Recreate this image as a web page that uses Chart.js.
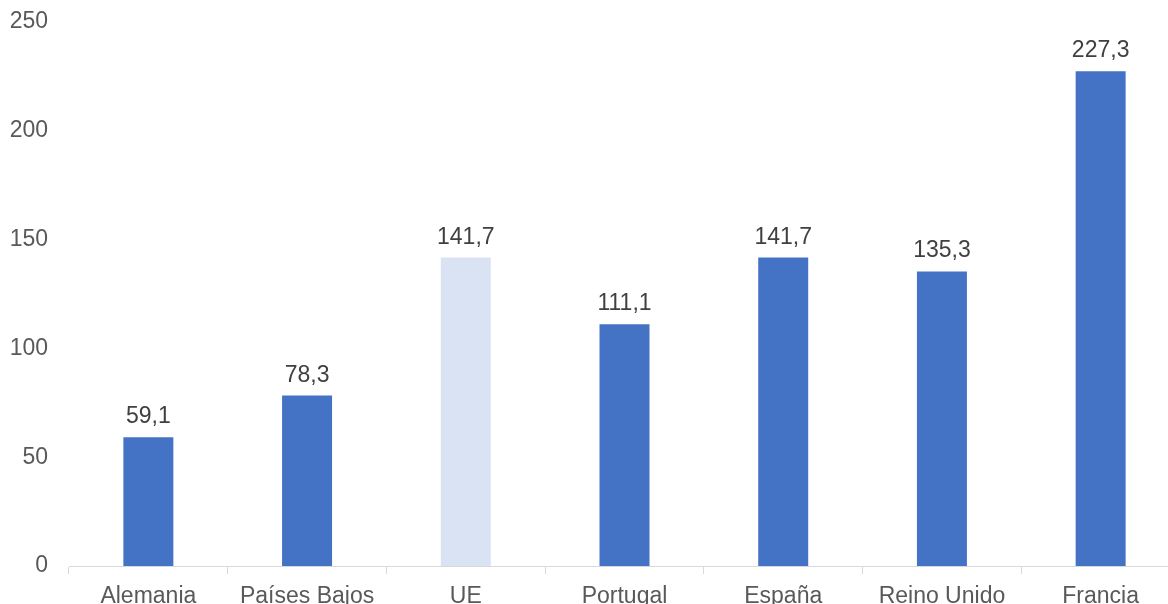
<!DOCTYPE html>
<html>
<head>
<meta charset="utf-8">
<script src="https://cdn.jsdelivr.net/npm/chart.js@4/dist/chart.umd.min.js"></script>
<style>
  html, body { margin: 0; padding: 0; background: #fff; overflow: hidden; }
  #wrap { width: 1180px; height: 625px; margin-top: -5px; }
</style>
</head>
<body>
<div id="wrap"><canvas id="chart" width="1180" height="625"></canvas></div>
<script>
// datos del gráfico
const categories = ["Alemania", "Países Bajos", "UE", "Portugal", "España", "Reino Unido", "Francia"];
const values = [59.1, 78.3, 141.7, 111.1, 141.7, 135.3, 227.3];
const yTicks = [0, 50, 100, 150, 200, 250];

const barColors = categories.map((c) => (c === "UE" ? "#DAE3F3" : "#4472C4"));
const FONT = "'Liberation Sans', Arial, sans-serif";

// etiquetas de valor encima de cada barra
const valueLabels = {
  id: "valueLabels",
  afterDatasetsDraw(chart) {
    const ctx = chart.ctx;
    const meta = chart.getDatasetMeta(0);
    ctx.save();
    ctx.font = "23px " + FONT;
    ctx.fillStyle = "#404040";
    ctx.textAlign = "center";
    ctx.textBaseline = "alphabetic";
    meta.data.forEach((bar, i) => {
      const txt = values[i].toFixed(1).replace(".", ",");
      ctx.fillText(txt, bar.x, bar.y - 14);
    });
    ctx.restore();
  },
};

new Chart(document.getElementById("chart"), {
  type: "bar",
  data: {
    labels: categories,
    datasets: [
      {
        data: values,
        backgroundColor: barColors,
        barPercentage: 0.315,
        categoryPercentage: 1,
      },
    ],
  },
  options: {
    responsive: false,
    animation: false,
    layout: { padding: { top: 9, left: 0, right: 0, bottom: 0 } },
    plugins: { legend: { display: false }, tooltip: { enabled: false } },
    scales: {
      x: {
        grid: {
          offset: true,
          drawOnChartArea: false,
          drawTicks: true,
          tickLength: 8,
          color: "#D9D9D9",
        },
        border: { color: "#D9D9D9", width: 1 },
        ticks: {
          color: "#595959",
          padding: 9,
          maxRotation: 0,
          font: { family: FONT, size: 23 },
        },
        afterFit(scale) {
          scale.height = 54;
        },
      },
      y: {
        min: 0,
        max: 250,
        afterBuildTicks(scale) {
          scale.ticks = yTicks.map((v) => ({ value: v }));
        },
        grid: { display: false },
        border: { display: false },
        ticks: {
          color: "#595959",
          padding: 13,
          font: { family: FONT, size: 23 },
        },
        afterFit(scale) {
          scale.width = 69;
        },
      },
    },
  },
  plugins: [valueLabels],
});
</script>
</body>
</html>
